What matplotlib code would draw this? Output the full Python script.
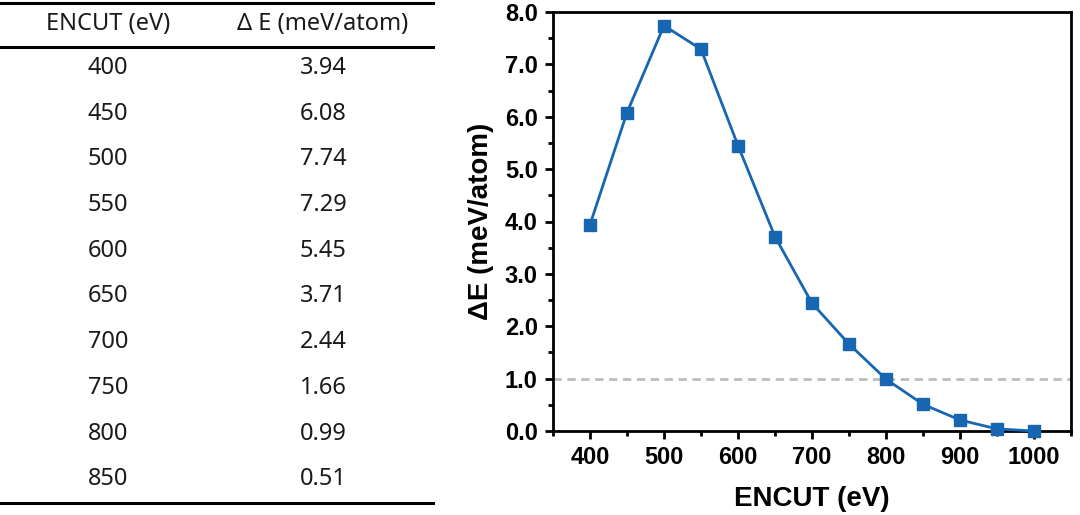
import numpy as np
import matplotlib
matplotlib.use('Agg')
from matplotlib import pyplot as plt
from matplotlib.lines import Line2D
from matplotlib.ticker import MultipleLocator

# data
encut = [400, 450, 500, 550, 600, 650, 700, 750, 800, 850, 900, 950, 1000]
dE = [3.94, 6.08, 7.74, 7.29, 5.45, 3.71, 2.44, 1.66, 0.99, 0.51, 0.21, 0.04, 0.0]
# table shows only the first ten rows
tab_encut = ['400', '450', '500', '550', '600', '650', '700', '750', '800', '850']
tab_dE = ['3.94', '6.08', '7.74', '7.29', '5.45', '3.71', '2.44', '1.66', '0.99', '0.51']
tab_head = ['ENCUT (eV)', '\u0394 E (meV/atom)']

W, H = 1080, 515
fig = plt.figure(figsize=(W/100, H/100), dpi=100)
color = '#1766b1'

# ---- table on the left ----
def fy(py):
    return 1 - py/H

col_x = [108/W, 323/W]
tfont = dict(family='Noto Sans', fontsize=17, color='#1a1a1a', ha='center', va='center')
fig.text(col_x[0], fy(24), tab_head[0], **tfont)
fig.text(col_x[1], fy(24), tab_head[1], **tfont)
row_y0, row_dy = 68, 45.7
for i in range(len(tab_encut)):
    y = fy(row_y0 + i*row_dy)
    fig.text(col_x[0], y, tab_encut[i], **tfont)
    fig.text(col_x[1], y, tab_dE[i], **tfont)

for py in [3, 47, 503]:
    fig.add_artist(Line2D([0, 433/W], [fy(py), fy(py)], color='black', lw=2.2))

# ---- plot on the right ----
ax = fig.add_axes([553/W, 1 - 431/H, (1071-553)/W, (431-12)/H])
ax.axhline(1.0, color='#bdbdbd', lw=2, ls=(0, (3, 2)), zorder=1)
ax.plot(encut, dE, color=color, lw=2, marker='s', markersize=8.5, clip_on=False, zorder=3)

ax.set_xlim(350, 1050)
ax.set_ylim(0, 8)
ax.xaxis.set_major_locator(MultipleLocator(100))
ax.xaxis.set_minor_locator(MultipleLocator(50))
ax.yaxis.set_major_locator(MultipleLocator(1))
ax.yaxis.set_minor_locator(MultipleLocator(0.5))
ax.yaxis.set_major_formatter(matplotlib.ticker.FormatStrFormatter('%.1f'))

for s in ax.spines.values():
    s.set_linewidth(2)
ax.tick_params(which='major', direction='out', length=6, width=2, top=False, right=False, pad=5)
ax.tick_params(which='minor', direction='out', length=3.5, width=2, top=False, right=False)
for lab in ax.get_xticklabels() + ax.get_yticklabels():
    lab.set_family('Liberation Sans')
    lab.set_fontweight('bold')
    lab.set_fontsize(17)

ax.set_xlabel('ENCUT (eV)', family='Liberation Sans', fontweight='bold', fontsize=20, labelpad=12)
ax.set_ylabel('\u0394E (meV/atom)', family=['Liberation Sans', 'DejaVu Sans'], fontweight='bold', fontsize=20, labelpad=8)

plt.savefig('out.png', dpi=100)
